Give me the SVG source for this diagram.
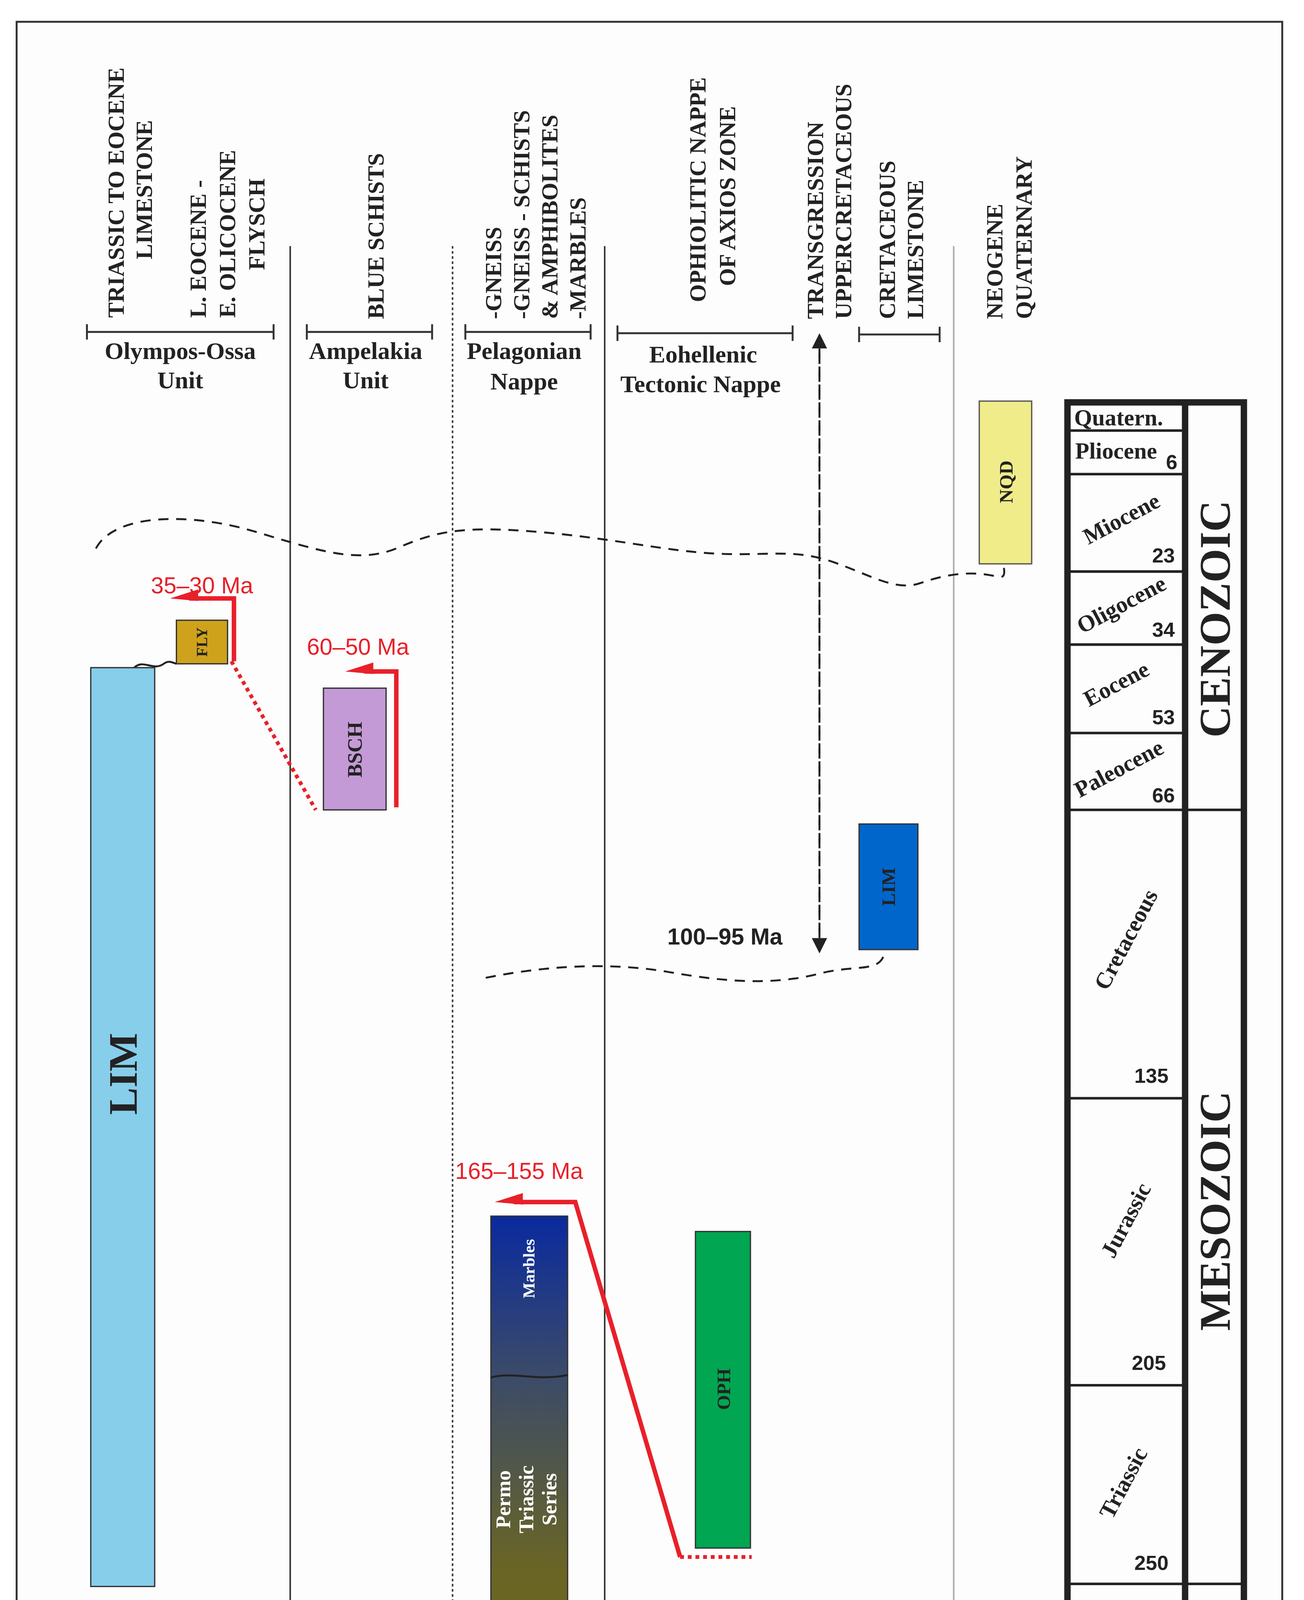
<svg xmlns="http://www.w3.org/2000/svg" width="3338" height="5144" viewBox="0 0 3338 5144">
<defs>
<style>
.h{font-family:"Liberation Serif",serif;font-weight:bold;font-size:18px;fill:#222}
.u{font-family:"Liberation Serif",serif;font-weight:bold;font-size:19px;fill:#222;text-anchor:middle}
.lb{font-family:"Liberation Serif",serif;font-weight:bold;fill:#222;text-anchor:middle}
.red{font-family:"Liberation Sans",sans-serif;font-size:18px;fill:#e8202a}
.num{font-family:"Liberation Sans",sans-serif;font-weight:bold;font-size:16px;fill:#222;text-anchor:end}
.per{font-family:"Liberation Serif",serif;font-weight:bold;font-size:18px;fill:#222;text-anchor:middle}
.era{font-family:"Liberation Serif",serif;font-weight:bold;font-size:34px;fill:#222;text-anchor:middle}
.rl{stroke:#e8202a;stroke-width:3.5;fill:none}
.rh{fill:#e8202a}
.rd{stroke:#e8202a;stroke-width:3;fill:none;stroke-dasharray:3 3}
.dl{stroke:#222;stroke-width:1.5;fill:none;stroke-dasharray:8 6}
.br{stroke:#333;stroke-width:1.5;fill:none}
</style>
<marker id="ba" markerWidth="12" markerHeight="20" refX="10" refY="6" orient="auto" markerUnits="userSpaceOnUse"><path d="M0,0 L12,6 L0,12 Z" fill="#222"/></marker>
<linearGradient id="gn" x1="0" y1="0" x2="0" y2="1">
<stop offset="0" stop-color="#0a2a9e"/><stop offset="0.22" stop-color="#3a4a6a"/><stop offset="0.5" stop-color="#6a6525"/><stop offset="1" stop-color="#7a6a12"/>
</linearGradient>
</defs>
<rect width="3338" height="5144" fill="#fff"/>
<g transform="scale(3.2725,3.2806)">
<rect x="13" y="17" width="990" height="1538" fill="#fdfdfd" stroke="#333" stroke-width="1.5"/>
<g id="separators">
<line x1="227" y1="192" x2="227" y2="1518" stroke="#333" stroke-width="1.2"/>
<line x1="354" y1="192" x2="354" y2="1518" stroke="#333" stroke-width="1.2" stroke-dasharray="2 2"/>
<line x1="473" y1="192" x2="473" y2="1518" stroke="#333" stroke-width="1.2"/>
<line x1="746" y1="192" x2="746" y2="1518" stroke="#aaa" stroke-width="1.2"/>
</g>
<g id="headers">
<text class="h" transform="translate(97,248) rotate(-90)">TRIASSIC TO EOCENE</text>
<text class="h" transform="translate(119,148) rotate(-90)" text-anchor="middle">LIMESTONE</text>
<text class="h" transform="translate(161,248) rotate(-90)">L. EOCENE -</text>
<text class="h" transform="translate(184,248) rotate(-90)">E. OLICOCENE</text>
<text class="h" transform="translate(207,175) rotate(-90)" text-anchor="middle">FLYSCH</text>
<text class="h" transform="translate(300,249) rotate(-90)">BLUE SCHISTS</text>
<text class="h" transform="translate(392,249) rotate(-90)">-GNEISS</text>
<text class="h" transform="translate(414,249) rotate(-90)">-GNEISS - SCHISTS</text>
<text class="h" transform="translate(436,249) rotate(-90)">&amp; AMPHIBOLITES</text>
<text class="h" transform="translate(458,249) rotate(-90)">-MARBLES</text>
<text class="h" transform="translate(552,148) rotate(-90)" text-anchor="middle">OPHIOLITIC NAPPE</text>
<text class="h" transform="translate(575,153) rotate(-90)" text-anchor="middle">OF AXIOS ZONE</text>
<text class="h" transform="translate(644,249) rotate(-90)">TRANSGRESSION</text>
<text class="h" transform="translate(666,249) rotate(-90)">UPPERCRETACEOUS</text>
<text class="h" transform="translate(700,249) rotate(-90)">CRETACEOUS</text>
<text class="h" transform="translate(722,249) rotate(-90)">LIMESTONE</text>
<text class="h" transform="translate(784,249) rotate(-90)">NEOGENE</text>
<text class="h" transform="translate(807,249) rotate(-90)">QUATERNARY</text>
<path class="br" d="M68,259 H214 M68,253 V265 M214,253 V265 M240,259 H338 M240,253 V265 M338,253 V265 M364,259 H462 M364,253 V265 M462,253 V265 M483,260 H620 M483,254 V266 M620,254 V266 M672,261 H735 M672,255 V267 M735,255 V267"/>
<text class="u" x="141" y="280">Olympos-Ossa</text><text class="u" x="141" y="303">Unit</text>
<text class="u" x="286" y="280">Ampelakia</text><text class="u" x="286" y="303">Unit</text>
<text class="u" x="410" y="280">Pelagonian</text><text class="u" x="410" y="304">Nappe</text>
<text class="u" x="550" y="283">Eohellenic</text><text class="u" x="548" y="306">Tectonic Nappe</text>
</g>
<g id="connectors">
<path class="dl" d="M75,428 C90,400 150,400 200,415 C250,430 280,440 310,428 C340,415 360,410 420,415 C480,420 520,430 560,432 C600,434 620,428 650,438 C680,448 700,462 720,455 C740,448 760,445 780,450 C788,452 785,444 785,440"/>
<path class="dl" d="M380,763 C420,755 470,750 520,758 C560,765 600,770 640,760 C670,752 690,760 692,742"/>
<path d="M105,521 C112,514 120,524 128,518 C132,515 135,517 138,518" stroke="#222" stroke-width="1.5" fill="none"/>
<line x1="641" y1="742" x2="641" y2="262" class="dl" stroke-width="2.5" marker-end="url(#ba)"/>
<line x1="641" y1="262" x2="641" y2="742" class="dl" stroke-width="2.5" marker-end="url(#ba)"/>
<path class="rl" d="M183,516 V467 H148"/>
<polygon class="rh" points="133,467 155,460 155,469"/>
<path class="rd" d="M181,516 L247,632"/>
<path class="rl" d="M310,630 V524 H285"/>
<polygon class="rh" points="270,524 292,517 292,526"/>
<path class="rl" d="M532,1215 L450,938 H402"/>
<polygon class="rh" points="387,938 409,931 409,940"/>
<path class="rd" d="M532,1215 H588"/>
</g>
<g id="labels">
<text class="red" x="118" y="463">35–30 Ma</text>
<text class="red" x="240" y="511">60–50 Ma</text>
<text class="red" x="356" y="920">165–155 Ma</text>
<text x="522" y="737" font-family="Liberation Sans,sans-serif" font-weight="bold" font-size="18" fill="#222">100–95 Ma</text>
</g>
<g id="NQD"><rect x="766" y="313" width="41" height="127" fill="#f0ec8a" stroke="#555"/><text class="lb" font-size="15" transform="translate(792,376) rotate(-90)">NQD</text></g>
<g id="FLY"><rect x="138" y="484" width="40" height="34" fill="#cfa21c" stroke="#333"/><text class="lb" font-size="12" transform="translate(162,501) rotate(-90)">FLY</text></g>
<g id="LIM1"><rect x="71" y="521" width="50" height="717" fill="#87ceeb" stroke="#333"/><text class="lb" font-size="32" transform="translate(107,838) rotate(-90)">LIM</text></g>
<g id="BSCH"><rect x="253" y="537" width="49" height="95" fill="#c49ad6" stroke="#333"/><text class="lb" font-size="16" transform="translate(283,585) rotate(-90)">BSCH</text></g>
<g id="LIM2"><rect x="672" y="643" width="46" height="98" fill="#0066cc" stroke="#333"/><text class="lb" font-size="15" transform="translate(700,692) rotate(-90)">LIM</text></g>
<g id="OPH"><rect x="544" y="961" width="43" height="247" fill="#00a651" stroke="#333"/><text class="lb" font-size="15" transform="translate(571,1084) rotate(-90)">OPH</text></g>
<g id="Gneiss">
<rect x="384" y="949" width="60" height="551" fill="url(#gn)" stroke="#333"/>
<path d="M384,1075 C400,1070 420,1078 444,1073" stroke="#222" stroke-width="1.5" fill="none"/>
<path d="M386,1268 C400,1262 420,1262 440,1268" stroke="#222" stroke-width="2" stroke-dasharray="2 2" fill="none"/>
<text class="lb" style="fill:#fff" font-size="13" transform="translate(418,990) rotate(-90)">Marbles</text>
<text class="lb" style="fill:#fff" font-size="16" transform="translate(399,1170) rotate(-90)">Permo</text>
<text class="lb" style="fill:#fff" font-size="16" transform="translate(417,1170) rotate(-90)">Triassic</text>
<text class="lb" style="fill:#fff" font-size="16" transform="translate(435,1170) rotate(-90)">Series</text>
<text class="lb" style="fill:#fff" font-size="6" x="414" y="1279">TRANSGRESSION</text>
<text class="lb" style="fill:#fff" font-size="26" transform="translate(422,1387) rotate(-90)">Gneiss &amp; Schists</text>
</g>
<g id="timescale" fill="none" stroke="#222">
<rect x="835" y="314" width="138" height="1198" stroke-width="5"/>
<line x1="927" y1="314" x2="927" y2="1512" stroke-width="5"/>
<path stroke-width="2" d="M835,336 H927 M835,370 H927 M835,446 H927 M835,503 H927 M835,572 H927 M835,632 H973 M835,857 H927 M835,1081 H927 M835,1236 H973 M835,1346 H927"/>
</g>
<g id="timelabels">
<text class="per" x="875" y="332" font-size="16">Quatern.</text>
<text class="per" x="873" y="358" font-size="16">Pliocene</text>
<text class="num" x="921" y="366">6</text>
<text class="per" transform="translate(880,410) rotate(-28)">Miocene</text><text class="num" x="919" y="439">23</text>
<text class="per" transform="translate(880,477) rotate(-28)">Oligocene</text><text class="num" x="919" y="497">34</text>
<text class="per" transform="translate(876,539) rotate(-28)">Eocene</text><text class="num" x="919" y="565">53</text>
<text class="per" transform="translate(878,605) rotate(-28)">Paleocene</text><text class="num" x="919" y="626">66</text>
<text class="per" font-size="22" transform="translate(886,736) rotate(-62)">Cretaceous</text><text class="num" x="914" y="845">135</text>
<text class="per" font-size="22" transform="translate(886,955) rotate(-62)">Jurassic</text><text class="num" x="912" y="1069">205</text>
<text class="per" font-size="22" transform="translate(884,1160) rotate(-62)">Triassic</text><text class="num" x="914" y="1225">250</text>
<text class="per" font-size="22" transform="translate(880,1306) rotate(-45)">Permian</text><text class="num" x="918" y="1336">290</text>
<text class="per" font-size="22" transform="translate(878,1428) rotate(-55)">Carboniferous</text><text class="num" x="918" y="1503">355</text>
<text class="era" transform="translate(962,483) rotate(-90)">CENOZOIC</text>
<text class="era" transform="translate(962,945) rotate(-90)">MESOZOIC</text>
<text class="era" transform="translate(962,1375) rotate(-90)">PALEOZOIC</text>
</g>
</g>
</svg>
